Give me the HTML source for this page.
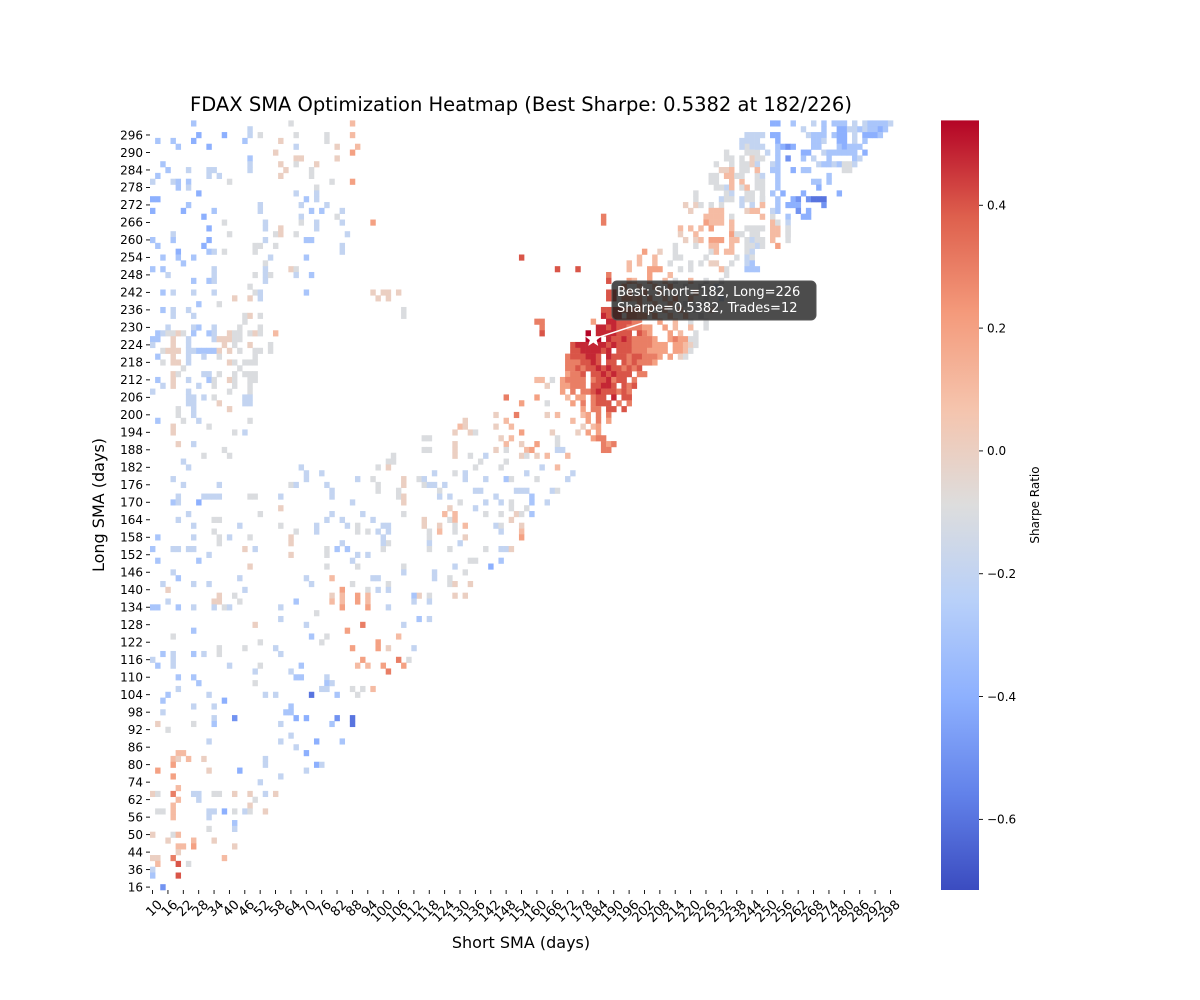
<!DOCTYPE html>
<html><head><meta charset="utf-8"><title>FDAX SMA Optimization Heatmap</title>
<style>
html,body{margin:0;padding:0;background:#fff;}
svg{display:block;font-family:"DejaVu Sans","Liberation Sans",sans-serif;}
</style></head>
<body>
<svg id="chart" width="1200" height="1000" viewBox="0 0 1200 1000" xmlns="http://www.w3.org/2000/svg">
<defs>
<linearGradient id="cbgrad" x1="0" y1="1" x2="0" y2="0">
<stop offset="0" stop-color="rgb(59,76,192)"/>
<stop offset="0.125" stop-color="rgb(98,130,234)"/>
<stop offset="0.25" stop-color="rgb(141,176,254)"/>
<stop offset="0.375" stop-color="rgb(184,208,249)"/>
<stop offset="0.5" stop-color="rgb(221,221,221)"/>
<stop offset="0.625" stop-color="rgb(245,196,173)"/>
<stop offset="0.75" stop-color="rgb(244,154,123)"/>
<stop offset="0.875" stop-color="rgb(222,96,77)"/>
<stop offset="1" stop-color="rgb(180,4,38)"/>
</linearGradient>
</defs>
<text x="521" y="111" text-anchor="middle" font-size="19.5" fill="#000">FDAX SMA Optimization Heatmap (Best Sharpe: 0.5382 at 182/226)</text>
<g id="cells"></g>
<g id="xaxis"></g>
<g id="yaxis"></g>
<text x="521" y="948" text-anchor="middle" font-size="16" fill="#000">Short SMA (days)</text>
<text transform="translate(104,505) rotate(-90)" text-anchor="middle" font-size="16" fill="#000">Long SMA (days)</text>
<g id="annot"></g>
<rect x="941" y="120.4" width="38" height="769.6" fill="url(#cbgrad)"/>
<g id="cbaxis"></g>
<text transform="translate(1039,505) rotate(-90)" text-anchor="middle" font-size="12" fill="#000">Sharpe Ratio</text>
</svg>
<script>
// ---------- data ----------
const shortValues = []; for (let s = 10; s <= 298; s += 2) shortValues.push(s);
const longValues = [16,20,30,36,40,42,44,46,48,50,52,54,56,58,60,62,66,70]; for (let l = 74; l <= 300; l += 2) longValues.push(l);
const levelCodes  = ['A','B','C','D','E','F','G','0','1','2','3','4','5','6'];
const levelValues = [-0.7,-0.6,-0.5,-0.4,-0.3,-0.2,-0.1,0.0,0.1,0.2,0.3,0.4,0.48,0.54];
const colorMin = -0.715, colorMax = 0.5382;
const cbTicks = [0.4,0.2,0.0,-0.2,-0.4,-0.6];
const bestShort = 182, bestLong = 226, bestSharpe = 0.5382, bestTrades = 12;

// sparse rows: "long|short:code short:code ..."
const sparseRows = [
"300|26:E 64:G 88:1","298|48:F","296|28:D 38:D 48:F 52:G 66:G 78:G 88:1","294|12:E 18:E 26:D 46:E 60:0 78:G",
"292|20:E 32:D 66:F 82:0 90:1","290|58:0 88:2","288|48:E 66:0 68:0 82:0","286|14:E 48:F 60:0 66:G 74:0",
"284|16:E 24:F 32:F 34:F 48:F 62:0 72:G","282|12:E 32:F 36:F 60:0 72:G","280|10:F 18:F 20:E 24:E 40:G 80:G 88:2",
"278|20:E 24:F 74:G","276|28:D 66:F 74:F","274|10:D 12:D 70:E 74:F","272|24:E 52:F 68:F 78:F",
"270|10:D 22:D 34:E 52:F 72:E 76:E 84:F","268|30:D 68:F 82:G","266|38:G 54:F 68:G 74:F 84:F 96:2",
"264|32:D 54:F 60:0 74:F","262|18:F 40:G 58:G 60:0 66:G 86:F","260|10:E 18:E 32:D 54:F 70:E 72:E",
"258|12:E 30:D 50:G 52:G 58:G 84:F","256|20:D 32:E 34:F 38:G 50:G 84:F","254|14:E 20:E 26:E 56:F 70:E 154:4",
"252|22:E 54:G","250|10:E 14:E 34:F 54:F 64:0 66:G 168:4 176:4","248|16:F 34:F 50:G 54:F 56:G 66:F 72:E",
"246|26:E 32:E 34:F 54:F","244|48:G","242|14:E 18:F 26:F 34:F 50:G 52:F 70:E 96:0 100:0 102:0 106:0",
"240|42:0 48:0 52:F 98:0 102:0","238|28:E 36:G","236|14:E 18:F 24:F 108:G","234|18:F 26:F 46:G 48:0 52:G 108:G",
"232|46:G 160:3 162:3","230|16:F 26:F 28:E 34:F 44:G 52:G 162:3",
"228|12:E 14:F 16:G 18:G 20:0 22:G 26:E 32:E 34:F 40:0 42:G 44:G 48:G 50:0 52:G 58:1 162:4",
"226|10:E 12:E 18:0 24:F 34:F 36:0 38:0 40:0 42:G 44:G","224|10:F 18:0 24:F 38:0 42:G 48:0 56:G",
"222|14:G 16:0 18:0 20:0 24:F 26:F 28:E 30:E 32:E 34:E 36:0 40:0 44:G 50:G 52:G 56:G",
"220|12:E 18:0 24:F 30:F 36:G 50:G","218|14:G 18:0 20:0 24:F 40:0 42:G 46:G 48:G 50:G","216|22:G 44:G",
"214|18:0 20:G 30:F 32:F 36:G 42:G 46:G 48:G 50:G","212|12:E 18:0 24:F 32:E 34:G 40:0 42:G 48:G 50:G 160:1 162:1 166:G",
"210|14:F 18:0 28:F 34:G 42:G 48:G 164:0","208|10:F 24:F 40:G 48:G","206|24:F 26:F 30:F 34:G 46:F 48:F 148:3 160:2",
"204|24:F 26:F 46:F 48:F 36:0 154:2 164:G","202|20:G 26:F 40:0","200|20:G 26:F 144:0 152:3 164:0 168:1",
"198|12:E 22:G 28:F 48:G 132:0 148:1","196|18:0 32:G 130:1 132:0 144:0 150:1","194|18:0 42:G 46:F 128:0 134:0 136:G 154:2 166:0",
"192|116:G 118:G 146:0 150:1 168:G","190|20:0 26:F 128:0 148:1 154:0 160:2 168:G",
"188|38:G 116:G 118:G 128:0 144:0 148:G 156:1 158:2 168:F 170:F","186|30:G 40:G 104:G 128:0 134:G 140:F 154:0 156:G 160:0 164:1 172:1",
"184|22:F 104:G 102:G 138:G 148:G","182|24:F 68:F 98:G 102:0 136:G 146:G 162:F 168:1","180|70:F 76:F 120:F 128:G 132:F 156:F 174:F",
"178|18:F 70:F 90:F 96:G 108:0 114:G 116:F 132:F 140:F 148:E 150:G 160:G 172:F",
"176|22:F 36:F 64:G 66:F 78:F 98:G 108:0 116:G 118:F 120:F 124:F","174|80:F 98:G 106:G 122:G 136:F 138:F 152:F 154:F 156:F 166:F 168:G",
"172|20:F 30:F 32:F 34:F 36:F 48:G 50:G 60:F 80:F 106:G 122:F 108:0 126:F 144:F 158:E",
"170|18:E 20:F 28:D 88:F 108:0 130:G 140:F 146:F 150:G 158:E 164:F","168|60:0 126:0 136:F 150:G 156:G",
"166|24:F 52:G 80:F 92:F 108:G 124:1 128:1 140:G 146:G 152:0 154:G 158:E","164|20:F 34:G 36:G 78:F 84:F 96:F 116:0 126:G 128:1 150:0",
"162|26:F 44:F 60:G 74:F 86:F 90:G 116:0 100:F 102:F 122:0 128:G 132:1 144:F 146:G 154:0",
"160|34:G 66:G 74:F 90:G 94:G 98:F 102:F 122:1 118:G 128:G 146:F 154:1","158|12:E 26:F 36:G 40:F 48:G 64:0 100:F 118:G 132:0 154:2",
"156|36:G 64:0 84:F 102:G 100:F 118:F 130:F","154|10:E 18:F 20:F 24:F 26:F 46:0 50:F 78:G 82:E 86:E 100:G 118:G 126:G 140:G 146:F 148:F 150:0",
"152|32:F 64:0 78:G 90:F 94:F","150|12:E 28:E 88:F 134:G 136:G 146:E","148|48:0 78:G 90:G 108:G 128:F 142:D",
"146|18:F 108:F 120:F 132:G","144|20:E 44:F 70:F 80:1 96:F 98:F 120:F 126:G","142|14:F 26:F 32:F 72:F 88:G 102:G 126:G 128:0 134:0",
"140|16:0 46:F 84:2 94:G 98:F 102:F","138|36:0 42:G 80:0 84:1 90:2 94:1 114:0 118:G 112:E 128:0 132:0",
"136|16:F 34:0 36:0 44:G 66:E 80:1 84:1 90:2 94:1 112:F 118:F","134|10:E 12:E 20:E 26:F 34:F 38:G 40:F 60:F 84:2 94:2 102:F",
"132|74:G","130|60:F 114:E 118:F","128|50:0 70:F 92:3 108:F","126|26:E 86:2","124|18:G 72:E 78:G 106:1",
"122|52:G 76:G 98:2","120|36:G 46:G 58:F 88:2 98:2 102:0 112:F","118|14:E 18:F 26:E 30:F 36:G 60:F",
"116|10:F 18:F 92:2 106:3 110:G","114|12:E 18:F 40:F 52:G 68:E 90:1 94:1 100:2 108:2","112|50:F 64:F 102:3",
"110|20:E 26:E 66:E 68:E 78:F","108|28:E 50:G 78:E 80:F","106|20:F 76:F 78:F 88:G 92:G 96:1",
"104|16:E 32:F 54:F 58:F 72:B 82:E 90:G","102|14:E 38:D","100|26:F 34:F 64:E","98|14:F 62:E 64:E",
"96|34:F 42:C 66:D 70:D 82:C 88:B","94|12:0 26:G 34:E 60:F 80:E 88:B","92|16:G","90|64:F","88|32:F 60:F 74:D 84:E",
"86|66:F","84|20:1 22:1 70:D","82|18:1 20:0 24:1 30:0 54:F","80|18:2 54:F 74:D 76:F","78|12:2 32:0 44:D 70:F",
"76|18:2 60:F","74|52:F","70|20:1","66|10:0 12:G 18:3 26:F 28:F 34:G 36:G 42:0 48:0 54:F 58:0","62|20:1 28:F 50:G",
"60|18:1 48:0","58|12:G 14:G 18:1 32:F 34:F 38:D 42:G 46:F 48:G 54:0","56|18:1 32:F","54|42:E","52|32:G 42:F",
"50|10:0 18:G 20:1","48|16:0 26:1 34:0","46|20:1 22:1 26:2 42:0","44|20:0","42|10:0 12:0 18:3 38:1",
"40|12:1 20:4 24:G","36|10:F","30|10:E 20:4","16|14:C",
// diagonal band upper right
"294|240:F 242:F 244:F","292|242:G 244:F 248:F","290|234:G 244:G 246:G","288|234:G 240:G 244:0","286|230:G 236:G 242:G 244:0",
"284|234:0 236:0 240:G 242:G 246:G","282|228:G 230:G 236:0 246:G","280|228:G 230:G 236:0 240:1 246:G","278|234:F 236:0 242:G 246:G",
"276|222:G 234:F 242:G 244:G","274|222:G 232:F 240:F 242:G 244:G 248:F","272|218:0 222:0 244:F 248:0","270|220:0 242:0",
"268|186:3 226:1 228:1 230:1 232:1 236:G 252:G","266|186:3 228:1 230:1 236:1 252:G",
"264|216:1 220:1 224:1 236:1 244:G 252:1 254:1 258:G","262|216:0 222:1 236:2 238:G 244:G 246:G 252:1 254:1 258:G",
"260|218:0 222:0 228:2 230:2 236:1 238:1 242:G 244:F 246:G 252:1","258|214:G 222:G 228:1 242:G 244:F 246:F 254:2",
"256|202:2 208:0 214:G 228:G 234:1 236:1 242:G","254|200:1 206:1 214:G 216:G 226:G 242:F",
"252|196:1 200:1 206:1 212:G 220:G 228:0 230:0 236:G 242:F","250|196:1 204:2 206:2 208:2 216:G 220:G 234:G 242:E 244:E",
"248|188:3 204:2 212:1 234:G","246|196:2 198:1 204:2 210:1 214:G 220:1 226:G 232:G","244|194:2 200:1 206:1 212:2 218:G 224:G 230:F",
"242|196:1 202:2 208:1 216:G 222:1 228:G","240|198:1 204:2 210:1 214:2 220:1 226:G 232:F","238|200:2 206:1 212:1 218:G 224:G 230:G",
"236|198:3 204:2 210:1 216:1 222:G 228:0","234|206:2 212:1 218:1 224:G","232|208:2 214:1 220:G 226:G","230|210:2 214:1 220:1 226:G",
"228|212:2 216:1 222:G","226|212:2 214:3 216:2 218:2 220:G 222:G","224|214:2 216:2 218:1 220:0 222:G","222|214:2 216:2 218:1 220:G","220|212:1 216:0 218:G",
// top right blue triangle
"300|252:D 254:D 260:E 268:F 272:E 276:E 278:E 280:E 284:F 288:F 290:E 292:E 294:E 296:E 298:F",
"298|264:F 272:E 278:D 280:D 282:F 284:F 286:E 288:F 290:E 292:E 294:D 296:E",
"296|242:F 244:F 246:F 248:F 252:D 254:D 266:F 268:E 270:E 272:E 276:E 278:D 280:D 284:F 288:D 290:D 292:D 294:E",
"294|246:F 254:D 268:E 270:E 272:F 278:D 280:D 284:F 288:E",
"292|240:F 246:F 254:E 256:D 258:C 260:D 268:E 270:E 278:E 280:D 282:E 284:E 286:E",
"290|242:G 250:F 254:E 264:D 266:D 272:F 274:E 276:E 278:E 280:E 282:E 284:E 288:D",
"288|236:G 246:G 248:G 254:E 258:C 264:E 268:F 274:E 284:E 286:F",
"286|236:G 240:G 246:F 252:F 254:E 270:F 272:E 274:E 276:F 278:E 280:G 282:G 284:F",
"284|232:0 236:1 246:1 252:E 254:E 260:D 264:E 266:E 280:G 282:G","282|234:1 236:1 238:G 240:G 248:F 254:E 274:E",
"280|236:1 248:G 254:E 268:E 270:E 274:E","278|230:G 232:G 236:1 240:G 242:1 248:G 254:E 270:D",
"276|234:G 236:F 248:G 252:E 256:D 264:D 278:D","274|234:G 236:G 248:G 254:E 260:D 262:C 266:C 268:B 270:B 272:B",
"272|224:G 228:G 232:G 240:F 248:1 254:E 258:D 260:D 262:D 272:C","270|228:1 230:1 232:1 244:1 246:1 252:F 254:E 262:C 266:D",
"268|248:1 258:E 264:D 266:D","266|226:2 232:1 252:1 254:G 258:F","264|228:2 242:G 246:G 248:G 258:G",
"262|240:G 258:G","260|224:1 232:2 248:G 258:G","258|230:1 236:1 244:G 248:G","256|230:1 244:F",
"254|238:G 244:G","252|224:G 244:E","250|232:1 246:E"
];

// dense cluster rows: "long|startShort|codes" (one char per column, '.' = empty)
const denseRows = [
"246|188|4","242|188|44..2","240|186|.44.22.2","236|186|444423.2","234|186|5444.3322","232|182|2..5544433",
"230|180|..55454433322","228|180|6.5555444.432","226|176|..666.5445433332","224|174|4555555454443333222",
"222|174|44555545.4443332222","220|172|3444554.54443443332.2","218|172|3334454.44.4343332","216|172|334344545443434",
"214|172|2334.44545444.33","212|170|23333.3445344.3","210|170|22333.44554.434","208|170|2.3.3345444343",
"206|172|1.22.344.5.44","204|174|2.3.3444.3.3","202|178|2.33.44.4","200|178|12.3.3","198|174|1..2.3.2",
"196|178|0.12","194|176|0.2.2","192|182|233","190|186|323","188|186|33"
];

// ---------- geometry ----------
const plotL = 150, plotR = 893, plotT = 120.4, plotB = 890;
const cellW = (plotR - plotL) / shortValues.length;
const cellH = (plotB - plotT) / longValues.length;
const NS = 'http://www.w3.org/2000/svg';
const colIndex = s => shortValues.indexOf(s);
const rowIndex = l => longValues.indexOf(l);
const xOf = s => plotL + colIndex(s) * cellW;
const yOf = l => plotB - (rowIndex(l) + 1) * cellH;
const cbY = v => plotT + (colorMax - v) / (colorMax - colorMin) * (plotB - plotT);

const cmapStops = [[59,76,192],[98,130,234],[141,176,254],[184,208,249],[221,221,221],[245,196,173],[244,154,123],[222,96,77],[180,4,38]];
function colorOf(v){
  let t = (v - colorMin) / (colorMax - colorMin); t = Math.max(0, Math.min(1, t));
  const p = t * (cmapStops.length - 1), i = Math.min(Math.floor(p), cmapStops.length - 2), f = p - i;
  const a = cmapStops[i], b = cmapStops[i+1];
  return 'rgb(' + [0,1,2].map(k => Math.round(a[k] + (b[k]-a[k])*f)).join(',') + ')';
}
const codeValue = c => levelValues[levelCodes.indexOf(c)];

function mk(tag, attrs, parent){
  const el = document.createElementNS(NS, tag);
  for (const k in attrs) el.setAttribute(k, attrs[k]);
  parent.appendChild(el); return el;
}

// ---------- cells ----------
const cellsG = document.getElementById('cells');
function drawCell(s, l, v){
  if (colIndex(s) < 0 || rowIndex(l) < 0 || v === undefined) return;
  const r = mk('rect', {x: xOf(s).toFixed(2), y: yOf(l).toFixed(2), width: (cellW + 0.3).toFixed(2), height: (cellH + 0.3).toFixed(2), fill: colorOf(v)}, cellsG);
  
  
}
sparseRows.forEach(row => {
  const [lp, rest] = row.split('|'); const l = +lp;
  rest.trim().split(/\s+/).forEach(p => { const [s, c] = p.split(':'); drawCell(+s, l, codeValue(c)); });
});
denseRows.forEach(row => {
  const [lp, sp, codes] = row.split('|'); const l = +lp, s0 = +sp;
  for (let i = 0; i < codes.length; i++) { if (codes[i] !== '.') drawCell(s0 + 2*i, l, codeValue(codes[i])); }
});

// ---------- axes ----------
const xG = document.getElementById('xaxis');
for (let i = 0; i < shortValues.length; i += 3) {
  const x = plotL + (i + 0.5) * cellW;
  const t = mk('line', {x1: x, y1: plotB, x2: x, y2: plotB + 4, stroke: '#000', 'stroke-width': 0.9}, xG);
  
  
  const lb = mk('text', {transform: 'translate(' + (x + 4) + ',' + (plotB + 9) + ') rotate(-45)', 'text-anchor': 'end', 'font-size': 13, dy: '0.7em', fill: '#000'}, xG);
  lb.textContent = shortValues[i];
  
  
}
const yG = document.getElementById('yaxis');
for (let r = 0; r < longValues.length; r += 3) {
  const y = plotB - (r + 0.5) * cellH;
  const t = mk('line', {x1: plotL - 4, y1: y, x2: plotL, y2: y, stroke: '#000', 'stroke-width': 0.9}, yG);
  
  
  const lb = mk('text', {x: plotL - 7, y: y + 4.3, 'text-anchor': 'end', 'font-size': 12, fill: '#000'}, yG);
  lb.textContent = longValues[r];
  
  
}

// ---------- colorbar axis ----------
const cbG = document.getElementById('cbaxis');
cbTicks.forEach(v => {
  const y = cbY(v);
  const t = mk('line', {x1: 979, y1: y, x2: 983, y2: y, stroke: '#000', 'stroke-width': 0.9}, cbG);
  
  
  const lb = mk('text', {x: 987, y: y + 4.3, 'font-size': 12, fill: '#000'}, cbG);
  lb.textContent = (v < 0 ? '\u2212' : '') + Math.abs(v).toFixed(1);
  
  
});

// ---------- best annotation ----------
const aG = document.getElementById('annot');
const sx = xOf(bestShort) + cellW / 2, sy = yOf(bestLong) + cellH / 2;
const arrow = mk('line', {x1: 652, y1: 320, x2: sx + 6, y2: sy - 2, stroke: '#fff', 'stroke-width': 1.5}, aG);


const box = mk('rect', {x: 612, y: 281, width: 204, height: 39, rx: 5, fill: 'rgba(25,25,25,0.78)', stroke: '#555', 'stroke-width': 1}, aG);


const t1 = mk('text', {x: 617, y: 296, 'font-size': 13, fill: '#fff'}, aG);
t1.textContent = 'Best: Short=' + bestShort + ', Long=' + bestLong;


const t2 = mk('text', {x: 617, y: 312, 'font-size': 13, fill: '#fff'}, aG);
t2.textContent = 'Sharpe=' + bestSharpe.toFixed(4) + ', Trades=' + bestTrades;


let pts = [];
for (let k = 0; k < 10; k++) {
  const rad = k % 2 === 0 ? 8 : 3.3, ang = -Math.PI/2 + k * Math.PI/5;
  pts.push((sx + rad*Math.cos(ang)).toFixed(2) + ',' + (sy + rad*Math.sin(ang)).toFixed(2));
}
const star = mk('polygon', {points: pts.join(' '), fill: '#fff', stroke: '#fff', 'stroke-width': 0.5}, aG);


</script>
</body></html>
